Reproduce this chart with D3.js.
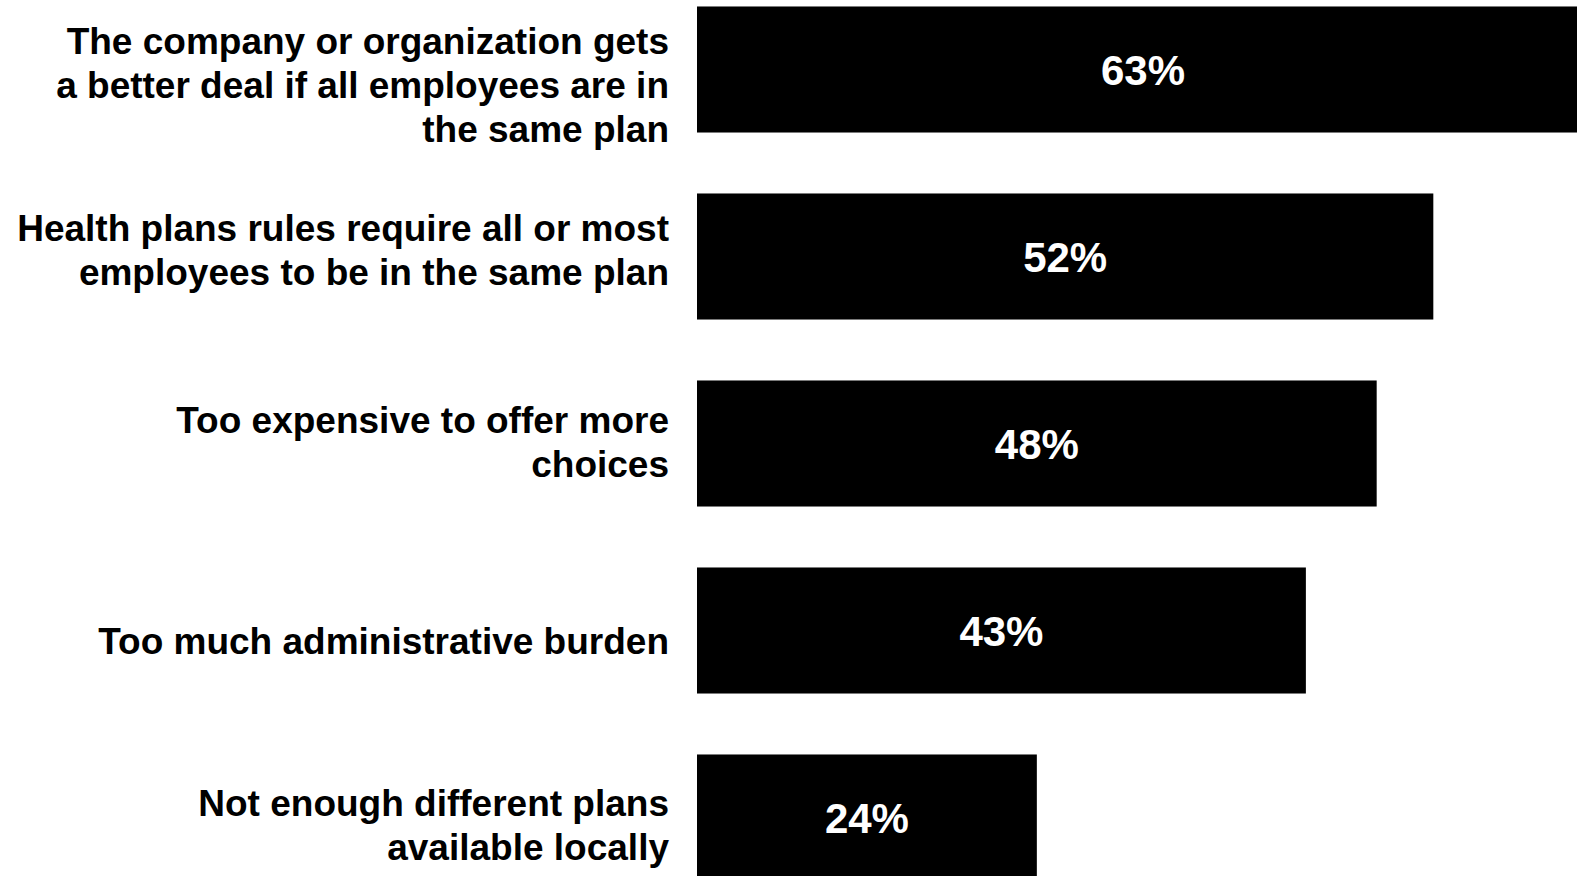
<!DOCTYPE html>
<html>
<head>
<meta charset="utf-8">
<script src="https://cdn.jsdelivr.net/npm/d3@7"></script>
<style>
  html, body { margin: 0; padding: 0; background: #ffffff; }
  svg { display: block; }
  text { font-family: "Liberation Sans", Arial, sans-serif; font-weight: bold; }
</style>
</head>
<body>
<svg id="chart" width="1577" height="876"></svg>
<script>
// Reasons given for offering a single plan (share of respondents)
const categories = [
  "The company or organization gets a better deal if all employees are in the same plan",
  "Health plans rules require all or most employees to be in the same plan",
  "Too expensive to offer more choices",
  "Too much administrative burden",
  "Not enough different plans available locally"
];
// Wrapped category labels, one entry per line
const categoryLines = [
  ["The company or organization gets", "a better deal if all employees are in", "the same plan"],
  ["Health plans rules require all or most", "employees to be in the same plan"],
  ["Too expensive to offer more", "choices"],
  ["Too much administrative burden"],
  ["Not enough different plans", "available locally"]
];
const values = [0.63, 0.52, 0.48, 0.43, 0.24];

// Layout: vertical nudge of each category label block, in px
const labelNudge = [15, -7, -2, 10, 7];

const width = 1577, height = 876;
const svg = d3.select("#chart");

const barLeft = 697;
const x = d3.scaleLinear().domain([0, 1]).range([barLeft, barLeft + 1416]);

const y = d3.scaleBand()
  .domain(categories)
  .range([-24, 911])
  .paddingInner(0.326)
  .paddingOuter(0.163);

const rows = categories.map((c, i) => ({ cat: c, lines: categoryLines[i], value: values[i], nudge: labelNudge[i] }));

// Bars
svg.append("g")
  .selectAll("rect")
  .data(rows)
  .join("rect")
  .attr("x", x(0))
  .attr("y", d => y(d.cat))
  .attr("width", d => x(d.value) - x(0))
  .attr("height", y.bandwidth())
  .attr("fill", "#000000");

// Value labels centred in each bar
svg.append("g")
  .selectAll("text")
  .data(rows)
  .join("text")
  .attr("x", d => (x(0) + x(d.value)) / 2)
  .attr("y", d => y(d.cat) + y.bandwidth() / 2 + 15)
  .attr("text-anchor", "middle")
  .attr("fill", "#ffffff")
  .attr("font-size", 42)
  .text(d => d3.format(".0%")(d.value));

// Category labels, right-aligned against the bars
const lineHeight = 44;
const labels = svg.append("g")
  .selectAll("text")
  .data(rows)
  .join("text")
  .attr("text-anchor", "end")
  .attr("fill", "#000000")
  .attr("font-size", 37);

labels.each(function(d) {
  const n = d.lines.length;
  const cy = y(d.cat) + y.bandwidth() / 2 + d.nudge;
  d3.select(this).selectAll("tspan")
    .data(d.lines)
    .join("tspan")
    .attr("x", barLeft - 28)
    .attr("y", (t, i) => cy + (i - (n - 1) / 2) * lineHeight + 13)
    .text(t => t);
});
</script>
</body>
</html>
